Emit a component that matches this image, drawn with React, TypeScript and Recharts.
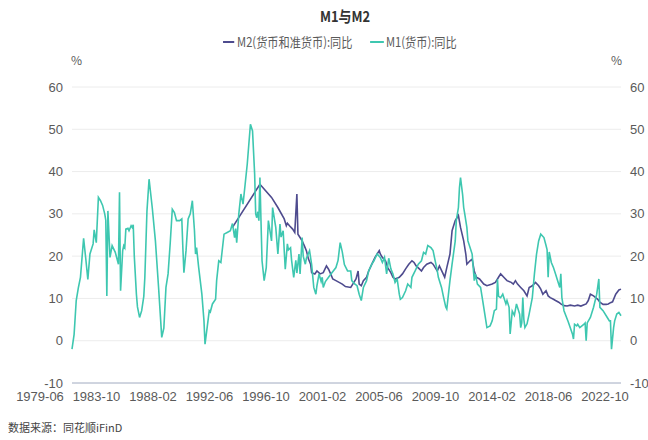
import React from "react";
import { LineChart, Line, XAxis, YAxis, CartesianGrid } from "recharts";

const chartTitle = "M1与M2";
const m2Name = "M2(货币和准货币):同比";
const m1Name = "M1(货币):同比";
const sourceText = "数据来源：同花顺iFinD";

const xTickLabels = ["1979-06", "1983-10", "1988-02", "1992-06", "1996-10", "2001-02", "2005-06", "2009-10", "2014-02", "2018-06", "2022-10"];
const yTicks = [-10, 0, 10, 20, 30, 40, 50, 60];

const m1Series: [string, number][] = [
  ["1979-06", -2.0], ["1979-08", 1.5], ["1979-10", 9.5], ["1979-12", 12.5], ["1980-02", 15.0], ["1980-05", 24.2],
  ["1980-07", 19.5], ["1980-09", 14.5], ["1980-11", 20.5], ["1981-02", 22.9], ["1981-03", 26.2], ["1981-05", 23.2],
  ["1981-07", 33.9], ["1981-09", 33.1], ["1981-11", 32.0], ["1982-01", 30.0], ["1982-02", 28.5], ["1982-03", 10.6],
  ["1982-04", 30.7], ["1982-06", 19.7], ["1982-08", 22.5], ["1982-11", 20.9], ["1983-02", 18.1], ["1983-03", 35.1],
  ["1983-04", 11.8], ["1983-06", 21.3], ["1983-07", 22.5], ["1983-08", 22.0], ["1983-09", 26.4], ["1983-11", 26.6],
  ["1983-12", 26.0], ["1984-02", 27.2], ["1984-03", 26.8], ["1984-04", 27.4], ["1984-05", 20.0], ["1984-07", 11.0],
  ["1984-08", 8.0], ["1984-10", 5.5], ["1984-12", 7.1], ["1985-02", 10.5], ["1985-03", 15.0], ["1985-05", 30.7],
  ["1985-07", 38.2], ["1985-10", 31.5], ["1986-01", 23.6], ["1986-04", 12.6], ["1986-07", 0.8], ["1986-09", 3.0],
  ["1986-11", 12.6], ["1987-01", 15.8], ["1987-03", 23.0], ["1987-05", 31.1], ["1987-07", 30.3], ["1987-09", 28.4],
  ["1987-12", 28.4], ["1988-02", 28.8], ["1988-03", 22.0], ["1988-04", 16.1], ["1988-06", 21.3], ["1988-08", 28.8],
  ["1988-10", 30.0], ["1988-12", 33.1], ["1989-02", 26.0], ["1989-03", 20.5], ["1989-04", 22.0], ["1989-06", 17.3],
  ["1989-09", 11.0], ["1989-11", 4.7], ["1989-12", -0.8], ["1990-02", 3.1], ["1990-04", 7.1], ["1990-05", 6.8],
  ["1990-07", 8.7], ["1990-10", 9.8], ["1990-11", 14.2], ["1991-01", 18.9], ["1991-03", 18.5], ["1991-06", 25.2],
  ["1991-09", 25.6], ["1991-12", 26.0], ["1992-02", 27.7], ["1992-04", 24.4], ["1992-05", 26.5], ["1992-06", 23.2],
  ["1992-08", 30.0], ["1992-10", 34.7], ["1992-12", 32.3], ["1993-02", 37.0], ["1993-04", 41.8], ["1993-07", 51.2],
  ["1993-09", 49.6], ["1993-11", 39.4], ["1993-12", 30.0], ["1994-01", 29.1], ["1994-02", 30.5], ["1994-03", 28.4],
  ["1994-04", 38.6], ["1994-05", 28.4], ["1994-06", 18.9], ["1994-08", 14.2], ["1994-10", 17.3], ["1994-12", 28.4],
  ["1995-03", 23.6], ["1995-04", 31.5], ["1995-07", 26.8], ["1995-09", 20.5], ["1995-11", 27.6], ["1995-12", 24.5],
  ["1996-02", 26.0], ["1996-04", 16.9], ["1996-06", 22.9], ["1996-07", 21.5], ["1996-09", 22.0], ["1996-10", 19.0],
  ["1996-12", 15.0], ["1997-02", 19.0], ["1997-03", 16.0], ["1997-05", 20.5], ["1997-06", 15.8], ["1997-08", 24.4],
  ["1997-09", 20.0], ["1997-11", 18.1], ["1997-12", 19.5], ["1998-03", 21.3], ["1998-05", 18.0], ["1998-07", 12.6],
  ["1998-09", 11.0], ["1998-10", 13.0], ["1998-12", 15.8], ["1999-02", 14.0], ["1999-03", 15.0], ["1999-04", 12.6],
  ["1999-06", 14.0], ["1999-09", 15.0], ["1999-12", 16.0], ["2000-04", 17.3], ["2000-06", 19.0], ["2000-08", 23.2],
  ["2000-10", 21.0], ["2000-12", 18.0], ["2001-03", 16.5], ["2001-06", 16.5], ["2001-07", 14.2], ["2001-10", 13.4],
  ["2001-12", 13.0], ["2002-02", 11.0], ["2002-04", 9.5], ["2002-06", 12.6], ["2002-09", 14.2], ["2002-11", 16.5],
  ["2003-02", 18.1], ["2003-04", 18.9], ["2003-07", 20.5], ["2003-10", 19.7], ["2003-12", 18.5], ["2004-02", 19.7],
  ["2004-04", 15.8], ["2004-06", 19.5], ["2004-08", 17.0], ["2004-10", 15.8], ["2004-12", 13.8], ["2005-02", 14.6],
  ["2005-04", 11.0], ["2005-05", 9.8], ["2005-07", 10.2], ["2005-10", 11.8], ["2005-12", 13.4], ["2006-03", 12.6],
  ["2006-04", 15.0], ["2006-07", 16.5], ["2006-10", 18.1], ["2007-01", 18.9], ["2007-03", 20.9], ["2007-05", 20.5],
  ["2007-07", 22.5], ["2007-10", 22.0], ["2007-12", 21.3], ["2008-02", 18.9], ["2008-04", 16.5], ["2008-05", 15.0],
  ["2008-08", 12.6], ["2008-10", 10.2], ["2008-12", 8.0], ["2009-01", 7.5], ["2009-04", 14.2], ["2009-06", 18.1],
  ["2009-09", 23.6], ["2009-10", 28.4], ["2009-12", 31.5], ["2010-01", 36.2], ["2010-02", 38.6], ["2010-04", 34.5],
  ["2010-05", 31.5], ["2010-06", 30.0], ["2010-08", 26.8], ["2010-09", 23.6], ["2010-12", 21.3], ["2011-01", 20.5],
  ["2011-03", 14.2], ["2011-04", 15.8], ["2011-06", 13.4], ["2011-09", 12.6], ["2011-11", 9.5], ["2012-01", 6.3],
  ["2012-03", 3.1], ["2012-06", 3.5], ["2012-08", 4.7], ["2012-10", 7.1], ["2012-12", 7.5], ["2013-01", 14.5],
  ["2013-02", 10.5], ["2013-04", 10.2], ["2013-06", 11.0], ["2013-09", 8.7], ["2013-10", 9.5], ["2013-12", 7.9],
  ["2014-01", 1.6], ["2014-03", 7.0], ["2014-05", 6.0], ["2014-07", 8.7], ["2014-10", 6.3], ["2014-11", 3.1],
  ["2014-12", 4.2], ["2015-01", 10.2], ["2015-02", 5.0], ["2015-03", 3.1], ["2015-05", 4.0], ["2015-07", 6.3],
  ["2015-10", 10.2], ["2015-12", 15.8], ["2016-02", 20.5], ["2016-04", 23.6], ["2016-06", 25.2], ["2016-09", 24.4],
  ["2016-11", 22.5], ["2016-12", 21.5], ["2017-01", 15.0], ["2017-02", 21.0], ["2017-04", 18.5], ["2017-06", 17.3],
  ["2017-08", 15.8], ["2017-10", 14.2], ["2017-12", 12.6], ["2018-01", 15.8], ["2018-02", 10.2], ["2018-04", 7.1],
  ["2018-08", 4.5], ["2018-12", 1.6], ["2019-01", 0.4], ["2019-02", 3.9], ["2019-04", 3.5], ["2019-05", 3.9],
  ["2019-07", 3.1], ["2019-09", 3.5], ["2019-11", 3.9], ["2019-12", 4.2], ["2020-01", 0.0], ["2020-02", 4.2],
  ["2020-05", 5.5], ["2020-08", 7.9], ["2020-11", 11.0], ["2021-01", 14.6], ["2021-02", 7.9], ["2021-05", 7.1],
  ["2021-09", 5.5], ["2021-11", 4.7], ["2021-12", 4.7], ["2022-01", -2.0], ["2022-03", 3.1], ["2022-04", 4.7],
  ["2022-06", 6.3], ["2022-08", 6.7], ["2022-10", 5.9],
];

const m2Series: [string, number][] = [
  ["1992-02", 26.8], ["1994-04", 37.0], ["1995-03", 33.9], ["1995-09", 31.5], ["1996-03", 28.8], ["1996-05", 27.2],
  ["1996-06", 27.8], ["1996-08", 27.2], ["1996-11", 26.4], ["1997-01", 25.6], ["1997-03", 34.7], ["1997-04", 25.2],
  ["1997-06", 24.4], ["1997-08", 23.6], ["1997-10", 22.5], ["1997-12", 21.3], ["1998-02", 19.3], ["1998-04", 18.1],
  ["1998-05", 16.1], ["1998-08", 15.8], ["1998-10", 16.5], ["1999-01", 15.8], ["1999-04", 16.1], ["1999-07", 17.7],
  ["1999-09", 16.9], ["1999-11", 15.8], ["2000-01", 14.6], ["2000-04", 14.2], ["2000-07", 13.8], ["2000-10", 13.4],
  ["2001-01", 12.8], ["2001-06", 12.6], ["2001-09", 13.8], ["2001-11", 14.6], ["2002-01", 16.5], ["2002-02", 13.4],
  ["2002-04", 13.0], ["2002-06", 14.2], ["2002-09", 15.0], ["2002-11", 16.5], ["2003-02", 18.1], ["2003-05", 19.7],
  ["2003-09", 21.3], ["2003-10", 20.5], ["2003-12", 19.7], ["2004-03", 18.9], ["2004-05", 17.3], ["2004-08", 16.1],
  ["2004-10", 15.0], ["2004-12", 14.6], ["2005-04", 15.0], ["2005-07", 15.8], ["2005-10", 17.0], ["2006-01", 18.1],
  ["2006-04", 18.9], ["2006-06", 18.5], ["2006-08", 17.7], ["2006-11", 17.0], ["2007-01", 16.5], ["2007-03", 17.3],
  ["2007-06", 18.1], ["2007-10", 18.5], ["2007-12", 18.1], ["2008-02", 17.3], ["2008-04", 16.5], ["2008-06", 17.7],
  ["2008-09", 16.1], ["2008-11", 15.0], ["2009-01", 17.3], ["2009-04", 20.5], ["2009-06", 26.0], ["2009-09", 28.4],
  ["2009-12", 29.6], ["2010-02", 26.8], ["2010-05", 23.6], ["2010-07", 20.5], ["2010-08", 18.1], ["2010-11", 18.9],
  ["2011-01", 19.3], ["2011-03", 16.5], ["2011-05", 15.0], ["2011-08", 14.6], ["2011-12", 13.4], ["2012-03", 13.0],
  ["2012-08", 13.4], ["2012-11", 13.8], ["2013-02", 15.0], ["2013-04", 15.8], ["2013-07", 15.0], ["2013-10", 14.2],
  ["2014-02", 13.8], ["2014-04", 13.4], ["2014-06", 14.2], ["2014-08", 13.4], ["2014-11", 12.6], ["2015-02", 11.8],
  ["2015-05", 10.6], ["2015-07", 12.6], ["2015-10", 13.0], ["2016-01", 13.8], ["2016-04", 13.0], ["2016-06", 12.2],
  ["2016-08", 11.0], ["2016-11", 11.8], ["2017-01", 10.6], ["2017-03", 10.2], ["2017-06", 9.8], ["2017-08", 9.5],
  ["2017-11", 9.1], ["2018-01", 8.7], ["2018-04", 8.3], ["2018-07", 8.2], ["2018-10", 8.4], ["2019-02", 8.2],
  ["2019-05", 8.4], ["2019-08", 8.2], ["2019-11", 8.5], ["2020-01", 8.7], ["2020-03", 9.5], ["2020-05", 11.0],
  ["2020-08", 10.6], ["2020-10", 10.2], ["2020-12", 9.8], ["2021-02", 9.1], ["2021-05", 8.6], ["2021-08", 8.6],
  ["2021-10", 8.7], ["2021-12", 9.0], ["2022-02", 9.2], ["2022-05", 11.0], ["2022-08", 12.0], ["2022-10", 12.2],
];

const M2_COLOR = "#4e4b8e";
const M1_COLOR = "#3ec7b0";
const TEXT_COLOR = "#5a5a5a";
const FONT = "'Noto Sans CJK SC', 'Noto Sans', sans-serif";
const NUM_FONT = "'Liberation Sans', Arial, sans-serif";

const toIndex = (d: string) => {
  const [y, m] = d.split("-").map(Number);
  return (y - 1979) * 12 + (m - 6);
};

const xTicks = xTickLabels.map(toIndex);

type Row = { t: number; m1?: number; m2?: number };
const rowMap = new Map<number, Row>();
m1Series.forEach(([d, v]) => {
  const t = toIndex(d);
  const r = rowMap.get(t) || { t };
  r.m1 = v;
  rowMap.set(t, r);
});
m2Series.forEach(([d, v]) => {
  const t = toIndex(d);
  const r = rowMap.get(t) || { t };
  r.m2 = v;
  rowMap.set(t, r);
});
const data = Array.from(rowMap.values()).sort((a, b) => a.t - b.t);

const XTick = (props: any) => {
  const { x, y, payload } = props;
  const i = xTicks.indexOf(payload.value);
  const shift = -32 + 1.6 * i;
  return (
    <text x={x + shift} y={y} dy="0.71em" textAnchor="middle" fill={TEXT_COLOR} fontSize={13} fontFamily={NUM_FONT}>
      {xTickLabels[i]}
    </text>
  );
};

export default function App() {
  return (
    <div style={{ position: "relative", width: 648, height: 440, background: "#fff", fontFamily: FONT, overflow: "hidden" }}>
      <style>{`body{margin:0}`}</style>
      <div style={{ position: "absolute", top: 6, left: 0, width: 690, textAlign: "center", fontSize: 15, fontWeight: 700, color: "#333", lineHeight: "20px", transform: "scaleX(0.86)", transformOrigin: "345px 0" }}>
        {chartTitle}
      </div>
      <div style={{ position: "absolute", top: 33, left: 0, width: 680, display: "flex", justifyContent: "center", alignItems: "center", fontSize: 13, color: TEXT_COLOR, lineHeight: "18px", transform: "scaleX(0.86)", transformOrigin: "340px 0" }}>
        <span style={{ display: "inline-block", width: 13, height: 2, background: M2_COLOR, marginRight: 3 }} />
        <span>{m2Name}</span>
        <span style={{ display: "inline-block", width: 16, height: 2, background: M1_COLOR, marginLeft: 20, marginRight: 3 }} />
        <span>{m1Name}</span>
      </div>
      <div style={{ position: "absolute", top: 51, left: 71, fontSize: 12, color: TEXT_COLOR }}>%</div>
      <div style={{ position: "absolute", top: 51, left: 611, fontSize: 12, color: TEXT_COLOR }}>%</div>
      <div style={{ position: "absolute", top: 419, left: 8, fontSize: 11, color: "#444" }}>{sourceText}</div>
      <div style={{ position: "absolute", top: 0, left: 0 }}>
        <LineChart width={648} height={440} data={data} margin={{ top: 87, right: 5, bottom: 27, left: 12 }}>
          <CartesianGrid vertical={false} stroke="#ececec" yAxisId="left" />
          <XAxis
            dataKey="t"
            type="number"
            domain={[0, 520]}
            ticks={xTicks}
            tick={<XTick />}
            tickLine={false}
            tickSize={0}
            tickMargin={9}
            height={30}
            axisLine={{ stroke: "#aab4c9", strokeWidth: 1.2 }}
            interval={0}
          />
          <YAxis
            yAxisId="left"
            domain={[-10, 60]}
            ticks={yTicks}
            width={60}
            axisLine={false}
            tickLine={false}
            tickSize={0}
            tickMargin={9}
            tick={{ fill: TEXT_COLOR, fontSize: 13, fontFamily: NUM_FONT }}
          />
          <YAxis
            yAxisId="right"
            orientation="right"
            domain={[-10, 60]}
            ticks={yTicks}
            width={22}
            axisLine={false}
            tickLine={false}
            tickSize={0}
            tickMargin={9}
            tick={{ fill: TEXT_COLOR, fontSize: 13, fontFamily: NUM_FONT }}
          />
          <Line yAxisId="left" type="linear" dataKey="m2" name={m2Name} stroke={M2_COLOR} strokeWidth={1.6} dot={false} connectNulls isAnimationActive={false} />
          <Line yAxisId="right" type="linear" dataKey="m1" name={m1Name} stroke={M1_COLOR} strokeWidth={1.6} dot={false} connectNulls isAnimationActive={false} />
        </LineChart>
      </div>
    </div>
  );
}
